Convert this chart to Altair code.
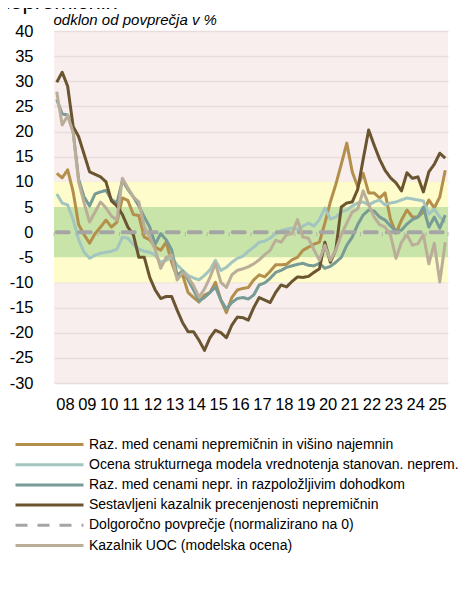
import altair as alt
import pandas as pd

SANS = "Liberation Sans"

series = [
    "Raz. med cenami nepremičnin in višino najemnin",
    "Ocena strukturnega modela vrednotenja stanovan. neprem.",
    "Raz. med cenami nepr. in razpoložljivim dohodkom",
    "Sestavljeni kazalnik precenjenosti nepremičnin",
    "Dolgoročno povprečje (normalizirano na 0)",
    "Kazalnik UOC (modelska ocena)",
]
colors = ["#B48F4B", "#A2C5BF", "#789C95", "#6A5530", "#A5A5A5", "#BBAE99"]
widths = [3, 3, 3, 3, 4, 3]

first_year = 2008
years = list(range(2008, 2026))          # axis labels 08..25
year_edges = list(range(2008, 2027))     # tick marks on the zero line

rent = [11.7, 10.8, 12.4, 8, 1.5, -0.5, -2.2, -0.3, 1, 2.4, 1, 2, 6.8, 6.3, 3.5, 3.3,
        -1, -1.5, -3, -3.6, -2, -6, -9, -8.5, -12, -13, -13.9, -12.5, -12, -10, -13.5, -16,
        -13, -11.5, -11.2, -11, -9.5, -8.5, -8.9, -7.8, -6.5, -6.5, -6.4, -5.5, -5, -3.6, -3, -2.4,
        -2, 1.8, 6, 9.5, 13.5, 17.7, 12, 9, 11.7, 7.8, 7.8, 6.8, 7.8, 2.5, -0.2, 2.4,
        4.4, 3, 3, 4, 6.4, 4.8, 7, 12.3]
structural = [7.6, 5.8, 5.4, 2.5, -1.5, -4, -5.2, -4.6, -4.2, -4, -3.8, -3.4, -1, -1.2, -2.5, -3.4,
              -3.8, -4, -4.6, -6, -5.6, -5, -6.5, -7.6, -8.6, -9.1, -9.5, -8.6, -7.5, -5.6, -7.6, -7,
              -6, -5.2, -4.8, -3.8, -3, -2, -1.8, -1.2, -0.3, 0.3, 0.6, 0.8, 0.5, 1.2, 1.8, 1.2,
              2.5, 4.8, 2.6, 3, 4, 4.4, 5.2, 5.8, 6, 5.4, 6, 6.4, 5.4, 5.8, 6, 6.4,
              6.8, 6.6, 6.4, 6.2, 3.6, 4.6, 3, 2]
income = [26.4, 23.5, 23.3, 20, 10.5, 7, 5.2, 7.6, 8, 8.3, 6.5, 5.8, 10.3, 8.5, 7, 5.2,
          3, 1, -2.4, -0.3, -1.5, -3.5, -8.5, -7.8, -9.5, -11.5, -13.7, -13, -12, -10.9, -13.5, -15.3,
          -14, -13.2, -13, -13.3, -12.5, -10.5, -10.1, -9.2, -8, -7.6, -7, -6.7, -6.4, -6.2, -6.6, -6.7,
          -6.2, -7.2, -6.8, -6, -5, -2.6, -1, 1.5, 3.4, 4.4, 4.2, 3, 2.4, 1.2, 0.2, 0.4,
          1.6, 2.5, 3, 5, 1, 3, 0.8, 3.4]
composite = [29.8, 31.8, 29, 21, 19, 15.5, 12, 11.5, 11, 10, 6.2, 5.2, 3.5, 1, -0.5, -5,
             -5, -9, -11.5, -13.2, -12.8, -12.8, -15.5, -18, -19.8, -19.8, -21.5, -23.5, -21, -19.5, -20, -21,
             -18.5, -16.9, -17, -17.5, -15, -13, -13.5, -14, -12, -10.5, -10.9, -9.8, -8.9, -9, -8.8, -8,
             -7.3, -2, -6, -3.5, 5, 5.8, 6, 8.5, 14.5, 20.3, 17.3, 14.5, 12.3, 10.8, 9.8, 8.2,
             11.8, 10.7, 11, 8, 12, 13.5, 15.7, 14.7]
average = [0] * 72
uoc = [27.9, 21.3, 23.2, 19.8, 10, 5.8, 2, 4, 6, 4.8, 3.2, 2.4, 10.7, 8.8, 7, 6,
       1, -1, -3.5, -7.2, -5, -4.5, -9.5, -8, -9, -10.6, -12.9, -11.3, -9, -6.2, -10, -11,
       -8.5, -7.6, -7.3, -6.9, -6.3, -5.5, -4.5, -3.6, -1.6, -2, -0.5, -0.3, 2.5, -1, -1.2, -3.5,
       -5.6, -2.6, -5.6, -3.6, -0.5, 1.8, 4, 4.6, 8.2, 5.5, 3, 1.5, 1, -0.6, -5.2, -2,
       -0.5, -2.6, -2.3, -0.5, -6.3, -2.2, -9.9, -2]

all_values = [rent, structural, income, composite, average, uoc]

y_ticks = list(range(-30, 41, 5))
band_lo = [-10, -5]
band_hi = [10, 5]
band_colors = ["#FFFCCC", "#C8E4A9"]

rows = []
for k, vals in enumerate(all_values):
    for i, v in enumerate(vals):
        rows.append({"k": k, "s": series[k], "t": first_year + (i + 0.5) / 4, "v": v})
df = pd.DataFrame(rows)

bands = pd.DataFrame({"lo": band_lo, "hi": band_hi, "c": band_colors,
                      "x0": [year_edges[0]] * 2, "x1": [year_edges[-1]] * 2})
ticks = pd.DataFrame({"t": year_edges, "v": [0] * len(year_edges)})

xscale = alt.Scale(domain=[year_edges[0], year_edges[-1]], nice=False, zero=False)
yscale = alt.Scale(domain=[y_ticks[0], y_ticks[-1]], nice=False, zero=False)

xaxis = alt.Axis(values=[y + 0.5 for y in years],
                 labelExpr="substring(toString(floor(datum.value)), 2)",
                 tickSize=0, domain=False, grid=False, title=None,
                 labelFont=SANS, labelFontSize=16.5, labelPadding=13,
                 labelFlush=False, labelColor="#000000", labelOverlap=False)
yaxis = alt.Axis(values=y_ticks, labelExpr="toString(datum.value)",
                 grid=True, gridColor="#E9DCDC", gridWidth=1.5, domain=False, ticks=False,
                 labelFont=SANS, labelFontSize=16.5, labelPadding=21, labelColor="#000000",
                 labelOverlap=False, labelFlush=False,
                 title="odklon od povprečja v %", titleAngle=0, titleX=-1, titleY=-7,
                 titleAlign="left", titleBaseline="alphabetic", titleFont=SANS,
                 titleFontStyle="italic", titleFontWeight="normal", titleFontSize=15,
                 titleColor="#000000")

band_layer = alt.Chart(bands).mark_rect().encode(
    x=alt.X("x0:Q", scale=xscale, axis=xaxis),
    x2="x1:Q",
    y=alt.Y("lo:Q", scale=yscale, axis=yaxis),
    y2="hi:Q",
    fill=alt.Fill("c:N", scale=None, legend=None),
)

tick_layer = alt.Chart(ticks).mark_tick(orient="vertical", size=4, thickness=1,
                                         yOffset=2, color="#A5A5A5").encode(
    x=alt.X("t:Q", scale=xscale, axis=xaxis),
    y=alt.Y("v:Q", scale=yscale, axis=yaxis),
)

legend = alt.Legend(title=None, orient="none", legendX=-14, legendY=404,
                    labelFont=SANS, labelFontSize=14, labelColor="#000000",
                    symbolType="M-4.25,0H4.25", symbolSize=256, symbolStrokeWidth=3,
                    labelOffset=30, rowPadding=3.2, labelLimit=500)

color_enc = alt.Color("s:N", scale=alt.Scale(domain=series, range=colors), legend=legend)
dash_enc = alt.StrokeDash("s:N", scale=alt.Scale(domain=series,
                          range=[[1, 0], [1, 0], [1, 0], [1, 0], [12, 10], [1, 0]]),
                          legend=legend)

line_layers = []
for k in range(len(series)):
    line_layers.append(
        alt.Chart(df).transform_filter(alt.datum.k == k).mark_line(
            strokeWidth=widths[k], strokeJoin="round",
            strokeCap="round" if k == 4 else "butt",
        ).encode(
            x=alt.X("t:Q", scale=xscale, axis=xaxis),
            y=alt.Y("v:Q", scale=yscale, axis=yaxis),
            color=color_enc,
            strokeDash=dash_enc,
        )
    )

chart = alt.layer(band_layer, tick_layer, *line_layers).properties(
    width=394, height=352,
    padding={"left": 46, "top": 23, "right": 11, "bottom": 200},
    autosize=alt.AutoSizeParams(type="none"),
    title=alt.TitleParams("nepremičnin", anchor="start", frame="group", fontSize=22,
                          font=SANS, fontWeight="normal", color="#000000",
                          dx=-56, dy=19, offset=0, baseline="alphabetic"),
).configure_view(fill="#F8EEEE", stroke=None)

chart.save("out.html", embed_options={"renderer": "svg", "actions": False})
